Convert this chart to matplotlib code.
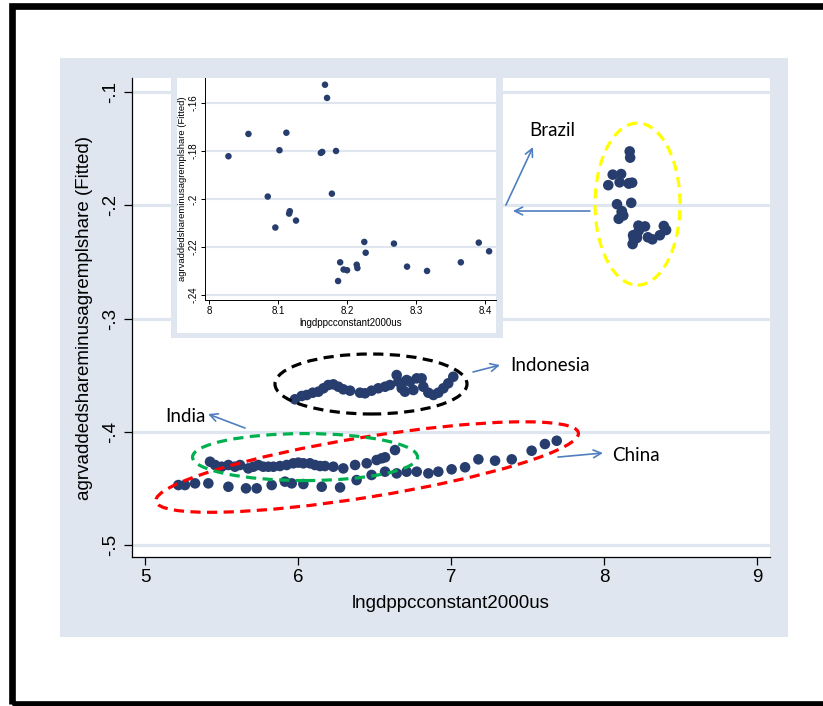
import matplotlib
matplotlib.use("Agg")
import matplotlib.pyplot as plt
from matplotlib.patches import Rectangle, Ellipse
from matplotlib.transforms import IdentityTransform
from matplotlib import font_manager

W, H = 823, 706

# Brazil (also the inset)
brazil_x = [8.028, 8.057, 8.085, 8.096, 8.102, 8.112, 8.116, 8.117, 8.126, 8.162,
            8.164, 8.168, 8.171, 8.184, 8.178, 8.187, 8.190, 8.195, 8.200, 8.214,
            8.215, 8.225, 8.227, 8.268, 8.287, 8.316, 8.365, 8.391, 8.406]
brazil_y = [-.1822, -.1729, -.1990, -.2119, -.1797, -.1724, -.2061, -.2051, -.2090, -.1808,
            -.1804, -.1524, -.1579, -.1800, -.1978, -.2342, -.2264, -.2294, -.2297, -.2274,
            -.2288, -.2179, -.2224, -.2186, -.2282, -.2300, -.2264, -.2182, -.2218]

indonesia_x = [5.98, 6.024, 6.057, 6.096, 6.133, 6.166, 6.198, 6.231, 6.264, 6.296,
               6.340, 6.405, 6.438, 6.481, 6.525, 6.569, 6.601, 6.645, 6.656, 6.678,
               6.699, 6.710, 6.732, 6.754, 6.776, 6.808, 6.819, 6.852, 6.885, 6.917,
               6.950, 6.982, 7.015]
indonesia_y = [-.3712, -.3683, -.3674, -.3654, -.3645, -.3615, -.3586, -.3580, -.3601, -.3624,
               -.3636, -.3654, -.3659, -.3636, -.3615, -.3601, -.3586, -.3498, -.3557, -.3615,
               -.3645, -.3542, -.3557, -.3630, -.3527, -.3527, -.3601, -.3654, -.3674, -.3654,
               -.3615, -.3571, -.3513]

india_x = [5.425, 5.458, 5.501, 5.545, 5.588, 5.621, 5.675, 5.708, 5.741, 5.773,
           5.806, 5.839, 5.882, 5.926, 5.969, 6.002, 6.035, 6.078, 6.111, 6.144,
           6.176, 6.231, 6.296, 6.373, 6.449, 6.514, 6.547, 6.569, 6.634]
india_y = [-.4263, -.4292, -.4307, -.4292, -.4307, -.4292, -.4322, -.4307, -.4292, -.4307,
           -.4307, -.4307, -.4301, -.4292, -.4277, -.4271, -.4277, -.4277, -.4292, -.4301,
           -.4301, -.4307, -.4322, -.4292, -.4277, -.4248, -.4233, -.4224, -.4160]

china_x = [5.218, 5.261, 5.327, 5.414, 5.545, 5.660, 5.730, 5.828, 5.915, 5.959,
           6.035, 6.155, 6.275, 6.383, 6.481, 6.569, 6.645, 6.710, 6.776, 6.852,
           6.917, 7.004, 7.092, 7.179, 7.288, 7.397, 7.527, 7.614, 7.691]
china_y = [-.4469, -.4469, -.4454, -.4454, -.4484, -.4498, -.4498, -.4469, -.4439, -.4454,
           -.4460, -.4484, -.4490, -.4425, -.4380, -.4351, -.4366, -.4351, -.4351, -.4366,
           -.4351, -.4330, -.4312, -.4242, -.4254, -.4242, -.4166, -.4107, -.4078]

main_xticks = [5, 6, 7, 8, 9]
main_yticks = [-.1, -.2, -.3, -.4, -.5]
main_ylabels = ["-.1", "-.2", "-.3", "-.4", "-.5"]
inset_xticks = [8, 8.1, 8.2, 8.3, 8.4]
inset_xlabels = ["8", "8.1", "8.2", "8.3", "8.4"]
inset_yticks = [-.16, -.18, -.2, -.22, -.24]
inset_ylabels = ["-.16", "-.18", "-.2", "-.22", "-.24"]
xtitle = "lngdppcconstant2000us"
ytitle = "agrvaddedshareminusagremplshare (Fitted)"

NAVY = "#263d6e"
PANEL = "#e0e6f0"
ARROW = "#4f7fbf"

names = {f.name for f in font_manager.fontManager.ttflist}
AXFONT = "Liberation Sans Narrow" if "Liberation Sans Narrow" in names else "Liberation Sans"
LABFONT = "Lato" if "Lato" in names else "DejaVu Sans"


def rect(x0, y0, x1, y1):
    # pixel box (top-left origin) -> figure fraction
    return [x0 / W, 1 - y1 / H, (x1 - x0) / W, (y1 - y0) / H]


fig = plt.figure(figsize=(W / 100, H / 100), dpi=100)
fig.patch.set_facecolor("white")

r = rect(60, 58, 788, 637)
fig.add_artist(Rectangle(r[:2], r[2], r[3], transform=fig.transFigure,
                         facecolor=PANEL, edgecolor="none", zorder=-5))

ax = fig.add_axes(rect(132, 78, 770, 557), zorder=0)
ax.set_facecolor("white")
ax.set_xlim(4.915, 9.085)
ax.set_ylim(-0.5104, -0.0876)
for s in ["top", "right"]:
    ax.spines[s].set_visible(False)
ax.spines["left"].set_linewidth(0.9)
ax.spines["bottom"].set_linewidth(0.9)
ax.set_xticks(main_xticks)
ax.set_xticklabels([str(t) for t in main_xticks], fontsize=13.5, family=AXFONT)
ax.set_yticks(main_yticks)
ax.set_yticklabels(main_ylabels, fontsize=13.5, family=AXFONT, rotation=90, va="center")
ax.tick_params(length=6, width=0.9, pad=3)
ax.yaxis.grid(True, color=PANEL, lw=2.3)
ax.set_axisbelow(True)
ax.set_xlabel(xtitle, fontsize=13.5, family=AXFONT)
ax.set_ylabel(ytitle, fontsize=13.5, family=AXFONT)
ax.xaxis.set_label_coords(0.5, -0.08)
ax.yaxis.set_label_coords(-0.061, 0.5)

for gx, gy in [(brazil_x, brazil_y), (indonesia_x, indonesia_y),
               (india_x, india_y), (china_x, china_y)]:
    ax.scatter(gx, gy, s=58, color=NAVY, edgecolors="none", zorder=3)


def ring(cx, cy, w, h, angle, color):
    px = ax.transData.transform((cx, cy))
    e = Ellipse(px, w, h, angle=angle, transform=IdentityTransform(), fill=False,
                edgecolor=color, lw=2.3, linestyle=(0, (3.2, 2)), zorder=4, clip_on=False)
    ax.add_artist(e)


ring(8.219, -0.1989, 85, 162, 0, "#ffff00")
ring(6.477, -0.3577, 192, 60, 0, "black")
ring(6.452, -0.4310, 428, 60, 9.2, "#ff0000")
ring(6.046, -0.4222, 225, 47, 0, "#00b050")


def note(text, tx, ty, tail, head):
    ax.annotate("", xy=head, xytext=tail,
                arrowprops=dict(arrowstyle="->", color=ARROW, lw=1.2,
                                mutation_scale=14, shrinkA=0, shrinkB=0),
                annotation_clip=False, zorder=5)
    ax.text(tx, ty, text, fontsize=13.5, family=LABFONT, ha="left", va="center", zorder=5)


note("Brazil", 7.510, -0.1335, (7.359, -0.1997), (7.536, -0.1485))
ax.annotate("", xy=(7.405, -0.205), xytext=(7.908, -0.205),
            arrowprops=dict(arrowstyle="->", color=ARROW, lw=1.2, mutation_scale=14,
                            shrinkA=0, shrinkB=0), annotation_clip=False, zorder=5)
note("Indonesia", 7.386, -0.3418, (7.144, -0.3471), (7.320, -0.3410))
note("India", 5.131, -0.3868, (5.654, -0.3966), (5.412, -0.3842))
note("China", 8.052, -0.4204, (7.699, -0.4222), (7.993, -0.4186))

# inset graph
r = rect(171, 70, 503, 338)
fig.add_artist(Rectangle(r[:2], r[2], r[3], transform=fig.transFigure,
                         facecolor=PANEL, edgecolor="none", zorder=1))
r = rect(177, 78, 496, 333)
fig.add_artist(Rectangle(r[:2], r[2], r[3], transform=fig.transFigure,
                         facecolor="white", edgecolor="none", zorder=1.5))

ins = fig.add_axes(rect(205, 78, 496, 300), zorder=3)
ins.set_facecolor("white")
ins.set_xlim(7.994, 8.416)
ins.set_ylim(-0.2421, -0.1496)
for s in ["top", "right"]:
    ins.spines[s].set_visible(False)
ins.spines["left"].set_linewidth(0.7)
ins.spines["bottom"].set_linewidth(0.7)
ins.set_xticks(inset_xticks)
ins.set_xticklabels(inset_xlabels, fontsize=7, family=AXFONT)
ins.set_yticks(inset_yticks)
ins.set_yticklabels(inset_ylabels, fontsize=7, family=AXFONT, rotation=90, va="center")
ins.tick_params(length=3, width=0.7, pad=1.5)
ins.yaxis.grid(True, color=PANEL, lw=1.5)
ins.set_axisbelow(True)
ins.set_xlabel(xtitle, fontsize=7, family=AXFONT, labelpad=1)
ins.set_ylabel(ytitle, fontsize=6.8, family=AXFONT, labelpad=1)
ins.scatter(brazil_x, brazil_y, s=22, color=NAVY, edgecolors="none", zorder=3)

# outer black frame
fig.add_artist(Rectangle((11.5 / W, 1 - 703.5 / H), (830 - 11.5) / W, (703.5 - 6) / H,
                         transform=fig.transFigure, fill=False, edgecolor="black",
                         lw=4.8, zorder=10))

fig.savefig("out.png", dpi=100)
